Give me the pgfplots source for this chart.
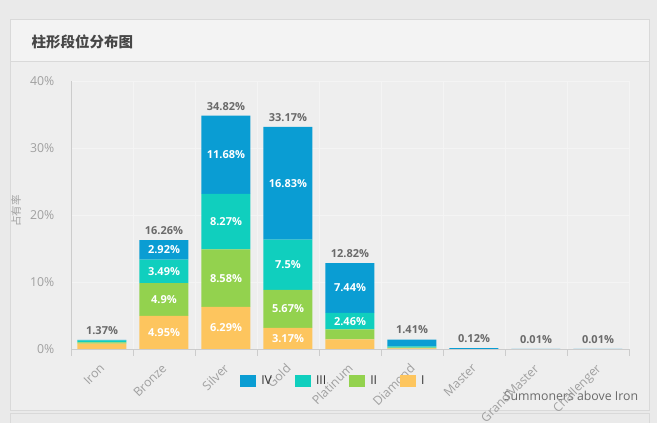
\documentclass[border=0pt]{standalone}
\usepackage{fontspec}
\usepackage{pgfplots}
\usepackage{pgfplotstable}
\pgfplotsset{compat=1.18}
\setmainfont{Open Sans}
\newfontfamily\cjk{Noto Sans CJK SC}

\definecolor{outerbg}{HTML}{EAEAEA}
\definecolor{bodybg}{HTML}{EEEEEE}
\definecolor{headbg}{HTML}{F3F3F3}
\definecolor{bordc}{HTML}{D9D9D9}
\definecolor{gridc}{HTML}{F4F4F4}
\definecolor{axisc}{HTML}{CCCCCC}
\definecolor{tickc}{HTML}{A0A0A0}
\definecolor{totc}{HTML}{6A6A6A}
\definecolor{cIV}{HTML}{0A9DD3}
\definecolor{cIII}{HTML}{10CFBE}
\definecolor{cII}{HTML}{93D24E}
\definecolor{cI}{HTML}{FDC55E}

\newcommand\lab{\fontsize{11}{13}\selectfont\bfseries}
\newcommand\tck{\fontsize{12.3}{14}\selectfont}
\def\nolab{-}

% share of summoners per tier and division (in %); l* = printed labels
\pgfplotstableread{
x  I     II    III   IV     total  lI    lII   lIII  lIV
0  0.80  0.20  0.30  0.07   1.37   -     -     -     -
1  4.95  4.90  3.49  2.92   16.26  4.95  4.9   3.49  2.92
2  6.29  8.58  8.27  11.68  34.82  6.29  8.58  8.27  11.68
3  3.17  5.67  7.50  16.83  33.17  3.17  5.67  7.5   16.83
4  1.42  1.50  2.46  7.44   12.82  -     -     2.46  7.44
5  0.11  0.10  0.20  1.00   1.41   -     -     -     -
6  0.00  0.00  0.00  0.12   0.12   -     -     -     -
7  0.00  0.00  0.00  0.01   0.01   -     -     -     -
8  0.00  0.00  0.00  0.01   0.01   -     -     -     -
}\ranks

\pgfplotsset{
  frame/.style={
    at={(O)}, anchor=south west, scale only axis,
    width=558pt, height=268pt,
    xmin=-0.5, xmax=8.5, ymin=0, ymax=40,
  },
  seglab/.style={
    only marks, mark=none, point meta=explicit symbolic,
    nodes near coords={\edef\tmp{\pgfplotspointmeta}\ifx\tmp\nolab\else\pgfplotspointmeta\%\fi},
    every node near coord/.style={anchor=center, text=white, font=\lab},
  },
}

\begin{document}
\begin{tikzpicture}[x=1pt,y=1pt]
\fill[outerbg] (0,0) rectangle (657,423);
\filldraw[fill=bodybg, draw=bordc] (10.5,13) rectangle (649.5,404);
\filldraw[fill=headbg, draw=bordc] (10.5,404) rectangle (649.5,362);
\draw[bordc] (10.5,0) -- (10.5,10) -- (649.5,10) -- (649.5,0);
\node[anchor=west, text=black!72, font=\cjk\bfseries\fontsize{14.5}{16}\selectfont] at (28,381) {柱形段位分布图};
\node[rotate=90, text=tickc, font=\cjk\fontsize{10.5}{12}\selectfont] at (16,212) {占有率};
\node[text=totc, font=\tck] at (571,27) {Summoners above Iron};
\coordinate (O) at (71,74);

\begin{axis}[
  frame,
  axis x line*=bottom, axis y line*=left,
  axis line style={draw=axisc},
  ybar stacked, bar width=49pt,
  xtick={0,...,8},
  xticklabels={Iron,Bronze,Silver,Gold,Platinum,Diamond,Master,GrandMaster,Challenger},
  x tick label style={xshift=-3pt, yshift=-8pt, rotate=45, anchor=north east, font=\tck, text=tickc, inner sep=1pt},
  major x tick style={draw=none},
  minor xtick={-0.5,0.5,...,8.5},
  minor x tick style={draw=axisc},
  minor tick length=7pt, tick align=outside,
  ytick={0,10,...,40},
  yticklabels={0\%,10\%,20\%,30\%,40\%},
  y tick label style={font=\tck, text=tickc, xshift=-9pt},
  major y tick style={draw=none},
  ymajorgrids, xminorgrids, grid style={draw=gridc},
  reverse legend,
  legend columns=4,
  legend image code/.code={\fill[#1] (0pt,-6pt) rectangle (16pt,6pt);},
  legend style={at={(0.303,-0.119)}, anchor=west, draw=none, fill=none,
    font=\tck, text=black!80, inner sep=0pt,
    /tikz/every odd column/.append style={column sep=3pt},
    /tikz/every even column/.append style={column sep=21pt}},
]
\addplot[fill=cI, draw=none] table[x=x,y=I]{\ranks};
\addlegendentry{I}
\addplot[fill=cII, draw=none] table[x=x,y=II]{\ranks};
\addlegendentry{II}
\addplot[fill=cIII, draw=none] table[x=x,y=III]{\ranks};
\addlegendentry{III}
\addplot[fill=cIV, draw=none] table[x=x,y=IV]{\ranks};
\addlegendentry{IV}
\end{axis}

% segment labels at the middle of each segment, totals above the stacks
\begin{axis}[frame, hide axis]
\addplot[seglab] table[x=x, y expr=\thisrow{I}/2, meta=lI]{\ranks};
\addplot[seglab] table[x=x, y expr=\thisrow{I}+\thisrow{II}/2, meta=lII]{\ranks};
\addplot[seglab] table[x=x, y expr=\thisrow{I}+\thisrow{II}+\thisrow{III}/2, meta=lIII]{\ranks};
\addplot[seglab] table[x=x, y expr=\thisrow{I}+\thisrow{II}+\thisrow{III}+\thisrow{IV}/2, meta=lIV]{\ranks};
\addplot[only marks, mark=none, point meta=explicit symbolic,
  nodes near coords={\pgfplotspointmeta\%},
  every node near coord/.style={anchor=south, text=totc, font=\lab, yshift=2pt}]
  table[x=x, y=total, meta=total]{\ranks};
\end{axis}
\pgfresetboundingbox
\path (0,0) rectangle (657,423);
\end{tikzpicture}
\end{document}
